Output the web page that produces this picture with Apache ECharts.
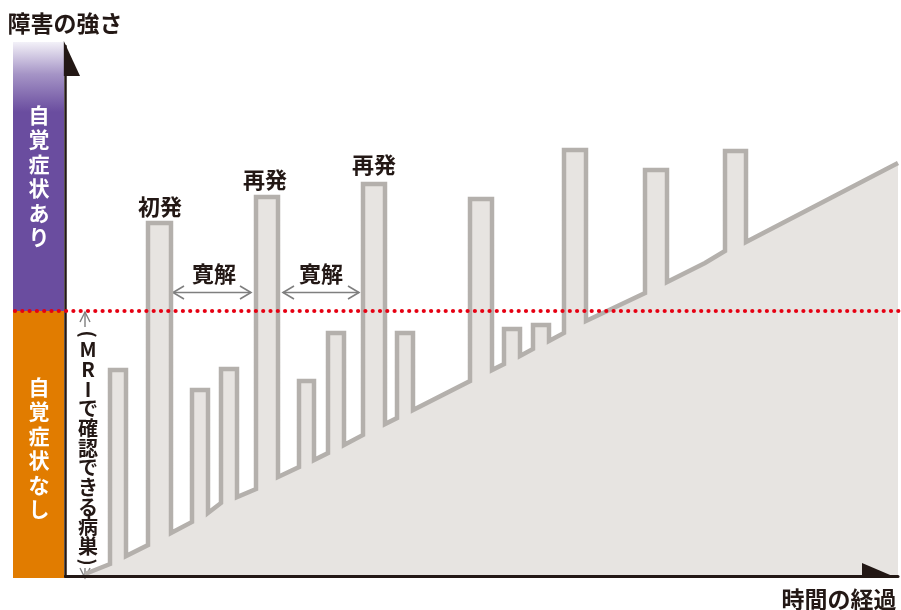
<!DOCTYPE html>
<html>
<head>
<meta charset="utf-8">
<title>障害の強さ</title>
<script src="https://cdn.jsdelivr.net/npm/echarts@6/dist/echarts.min.js"></script>
</head>
<body style="margin:0">
<div id="main" style="width:901px;height:610px;"></div>
<script type="text/javascript">
// 時間の経過 (x) と 障害の強さ (y) — 折れ線の各頂点
var timeX = [20, 45, 45, 61, 61, 83, 83, 106, 106, 127, 127, 143, 143,
    156, 156, 172, 172, 191, 191, 213, 213, 234, 234, 249, 249,
    263, 263, 279, 279, 298, 298, 320, 320, 332, 332, 348, 348,
    405, 405, 427, 427, 439, 439, 455, 455, 468, 468, 484, 484,
    499, 499, 521, 521, 580, 580, 602, 602, 640, 660, 660, 681, 681, 833];
var strength = [2, 12, 206, 206, 20, 31, 353, 353, 43, 54, 186, 186, 63,
    73, 207, 207, 79, 87, 379, 379, 99, 109, 195, 195, 116,
    123, 243, 243, 131, 141, 392, 392, 152, 158, 243, 243, 166,
    195, 377, 377, 206, 212, 247, 247, 220, 227, 251, 251, 235,
    243, 426, 426, 255, 283, 406, 406, 294, 313, 325, 425, 425, 334, 413];
// 自覚症状の境目
var threshold = 265;
var yMax = 530;
var xMax = 833;

var ink = '#231815';
var jp = "'Noto Sans CJK JP', sans-serif";
var arrowGray = '#7f7f7f';

var chart = echarts.init(document.getElementById('main'));

var points = timeX.map(function (x, i) { return [x, strength[i]]; });

var option = {
    animation: false,
    backgroundColor: '#ffffff',
    grid: { left: 65, right: 3, top: 46, bottom: 34 },
    xAxis: {
        type: 'value', min: 0, max: xMax, z: 5,
        axisLine: { show: true, onZero: false, lineStyle: { color: ink, width: 3 } },
        axisTick: { show: false }, axisLabel: { show: false }, splitLine: { show: false }
    },
    yAxis: {
        type: 'value', min: 0, max: yMax, z: 5,
        axisLine: { show: true, onZero: false, lineStyle: { color: ink, width: 2.5 } },
        axisTick: { show: false }, axisLabel: { show: false }, splitLine: { show: false }
    },
    series: [{
        type: 'line',
        data: points,
        symbol: 'none',
        z: 2,
        lineStyle: { color: '#b4b0ac', width: 4.5, join: 'miter', cap: 'butt' },
        areaStyle: { color: '#e7e4e1', opacity: 1 }
    }]
};
chart.setOption(option);

function txt(str, x, y, size, color, lh) {
    return {
        type: 'text', z: 20,
        style: {
            text: str, x: x, y: y,
            fontSize: size, fontWeight: 'bold', fontFamily: jp,
            fill: color, lineHeight: lh || size,
            align: 'center', verticalAlign: 'middle',
            textAlign: 'center', textVerticalAlign: 'middle'
        }
    };
}
// 縦書き用に横向きの括弧を回す
function paren(ch, x, y) {
    return {
        type: 'text', z: 20, x: x, y: y, rotation: -Math.PI / 2,
        style: {
            text: ch, x: 0, y: 0,
            fontSize: 19, fontWeight: 'bold', fontFamily: jp, fill: ink,
            align: 'center', verticalAlign: 'middle',
            textAlign: 'center', textVerticalAlign: 'middle'
        }
    };
}
function hArrow(x1, x2, y) {
    return {
        type: 'group', z: 20, children: [
            { type: 'line', shape: { x1: x1, y1: y, x2: x2, y2: y }, style: { stroke: arrowGray, lineWidth: 1.6 } },
            { type: 'polyline', shape: { points: [[x1 + 11, y - 6.5], [x1, y], [x1 + 11, y + 6.5]] }, style: { stroke: arrowGray, lineWidth: 1.6, fill: null } },
            { type: 'polyline', shape: { points: [[x2 - 11, y - 6.5], [x2, y], [x2 - 11, y + 6.5]] }, style: { stroke: arrowGray, lineWidth: 1.6, fill: null } }
        ]
    };
}
function vArrow(x, yFrom, yTip) {
    var d = yTip < yFrom ? 1 : -1;
    return {
        type: 'group', z: 20, children: [
            { type: 'line', shape: { x1: x, y1: yFrom, x2: x, y2: yTip }, style: { stroke: arrowGray, lineWidth: 1.4 } },
            { type: 'polyline', shape: { points: [[x - 5, yTip + d * 10], [x, yTip], [x + 5, yTip + d * 10]] }, style: { stroke: arrowGray, lineWidth: 1.4, fill: null } }
        ]
    };
}

var thY = chart.convertToPixel({ gridIndex: 0 }, [0, threshold])[1];
var origin = chart.convertToPixel({ gridIndex: 0 }, [0, 0]);
var topY = chart.convertToPixel({ gridIndex: 0 }, [0, yMax])[1];

chart.setOption({
    graphic: [
        // 左の帯
        {
            type: 'rect', z: 10,
            shape: { x: 13, y: 42, width: 51, height: thY - 42 },
            style: {
                fill: new echarts.graphic.LinearGradient(0, 0, 0, 1, [
                    { offset: 0, color: '#f3f1f8' },
                    { offset: 0.12, color: '#a594c6' },
                    { offset: 0.26, color: '#6a4d9f' },
                    { offset: 1, color: '#6a4d9f' }
                ])
            }
        },
        {
            type: 'rect', z: 10,
            shape: { x: 13, y: thY, width: 51, height: origin[1] + 2 - thY },
            style: { fill: '#e17c00' }
        },
        txt('自\n覚\n症\n状\nあ\nり', 39, 176, 21, '#ffffff', 24.5),
        txt('自\n覚\n症\n状\nな\nし', 39, 448, 21, '#ffffff', 24.5),
        // 軸の矢印
        {
            type: 'polygon', z: 12,
            shape: { points: [[origin[0] - 1.2, topY - 5], [origin[0] + 15, topY + 30], [origin[0] - 1.2, topY + 30]] },
            style: { fill: ink }
        },
        {
            type: 'polygon', z: 12,
            shape: { points: [[862, origin[1] - 13], [896, origin[1] + 1.5], [862, origin[1] + 1.5]] },
            style: { fill: ink }
        },
        // 赤い点線
        {
            type: 'line', z: 15,
            shape: { x1: 15, y1: thY, x2: 901, y2: thY },
            style: { stroke: '#e60012', lineWidth: 4.2, lineDash: [0, 7.3], lineCap: 'round' }
        },
        // 見出し
        txt('障害の強さ', 65, 23, 23, ink),
        txt('時間の経過', 839, 599, 23, ink),
        txt('初発', 160, 207, 22, ink),
        txt('再発', 265, 180, 22, ink),
        txt('再発', 374, 165, 22, ink),
        txt('寛解', 214, 274, 22, ink),
        txt('寛解', 321, 274, 22, ink),
        hArrow(173, 251, 292.5),
        hArrow(283, 359, 292.5),
        // MRIで確認できる病巣
        paren('(', 88, 334),
        txt('M\nR\nI\nで\n確\n認\nで\nき\nる\n病\n巣', 88, 448, 20, ink, 19.65),
        paren(')', 88, 562),
        vArrow(85, 327, 312),
        vArrow(85, 568, 578)
    ]
});
</script>
</body>
</html>
